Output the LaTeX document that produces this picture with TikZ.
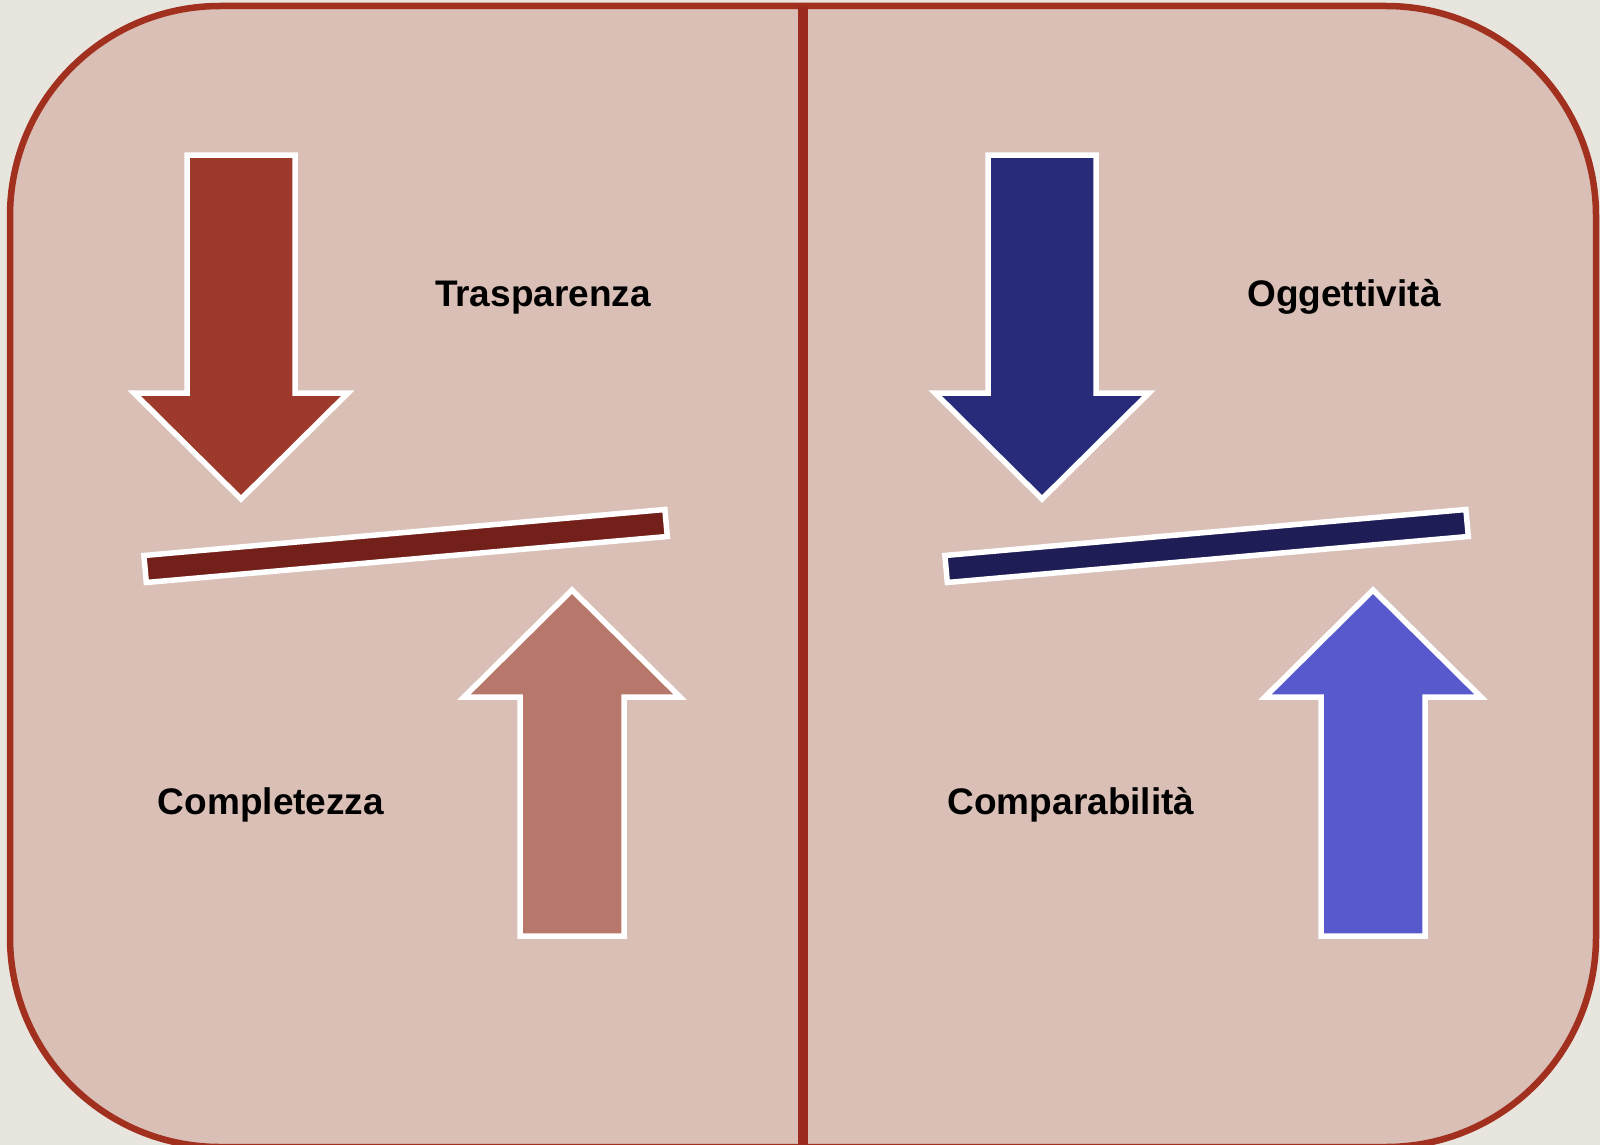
\documentclass[tikz,border=0pt]{standalone}
\usepackage{fontspec}
\setmainfont{Liberation Sans}
\definecolor{bgout}{HTML}{E8E4DE}
\definecolor{panelfill}{HTML}{D9BFB5}
\definecolor{borderred}{HTML}{A2301F}
\definecolor{divred}{HTML}{9C2A1E}
\definecolor{rdown}{HTML}{9E3A2B}
\definecolor{rbar}{HTML}{74201A}
\definecolor{rup}{HTML}{B8776B}
\definecolor{bdown}{HTML}{282A7A}
\definecolor{bbar}{HTML}{1F1D55}
\definecolor{bup}{HTML}{5759CC}
\begin{document}
\begin{tikzpicture}[x=1pt,y=-1pt,
  shapeline/.style={draw=white, line width=5.5pt, line join=miter},
  lbl/.style={inner sep=0pt, font=\bfseries\fontsize{37}{44}\selectfont, text=black}]
\useasboundingbox (0,0) rectangle (1600,1145);
\clip (0,0) rectangle (1600,1145);
\fill[bgout] (0,0) rectangle (1600,1145);
\draw[fill=panelfill, draw=borderred, line width=6.5pt, rounded corners=210pt] (10,6) rectangle (1596,1147);
\draw[divred, line width=10pt] (803,6) -- (803,1147);
% left panel
\draw[shapeline, fill=rdown] (187,155) -- (295,155) -- (295,393) -- (348,393) -- (241,499) -- (134,393) -- (187,393) -- cycle;
\draw[shapeline, fill=rbar] (143.9,555.5) -- (664.9,509.5) -- (667.3,536.5) -- (146.3,582.5) -- cycle;
\draw[shapeline, fill=rup] (520,936) -- (624,936) -- (624,697) -- (680,697) -- (572,590) -- (464,697) -- (520,697) -- cycle;
% right panel
\begin{scope}[xshift=801pt]
\draw[shapeline, fill=bdown] (187,155) -- (295,155) -- (295,393) -- (348,393) -- (241,499) -- (134,393) -- (187,393) -- cycle;
\draw[shapeline, fill=bbar] (143.9,555.5) -- (664.9,509.5) -- (667.3,536.5) -- (146.3,582.5) -- cycle;
\draw[shapeline, fill=bup] (520,936) -- (624,936) -- (624,697) -- (680,697) -- (572,590) -- (464,697) -- (520,697) -- cycle;
\end{scope}
% labels
\node[lbl, anchor=base] (trasp) at (543,306) {Trasparenza};
\node[lbl, anchor=base] (compl) at (271,814) {Completezza};
\node[lbl, anchor=base] (ogget) at (1344,306) {Oggettività};
\node[lbl, anchor=base] (compar) at (1071,814) {Comparabilità};
\end{tikzpicture}
\end{document}
